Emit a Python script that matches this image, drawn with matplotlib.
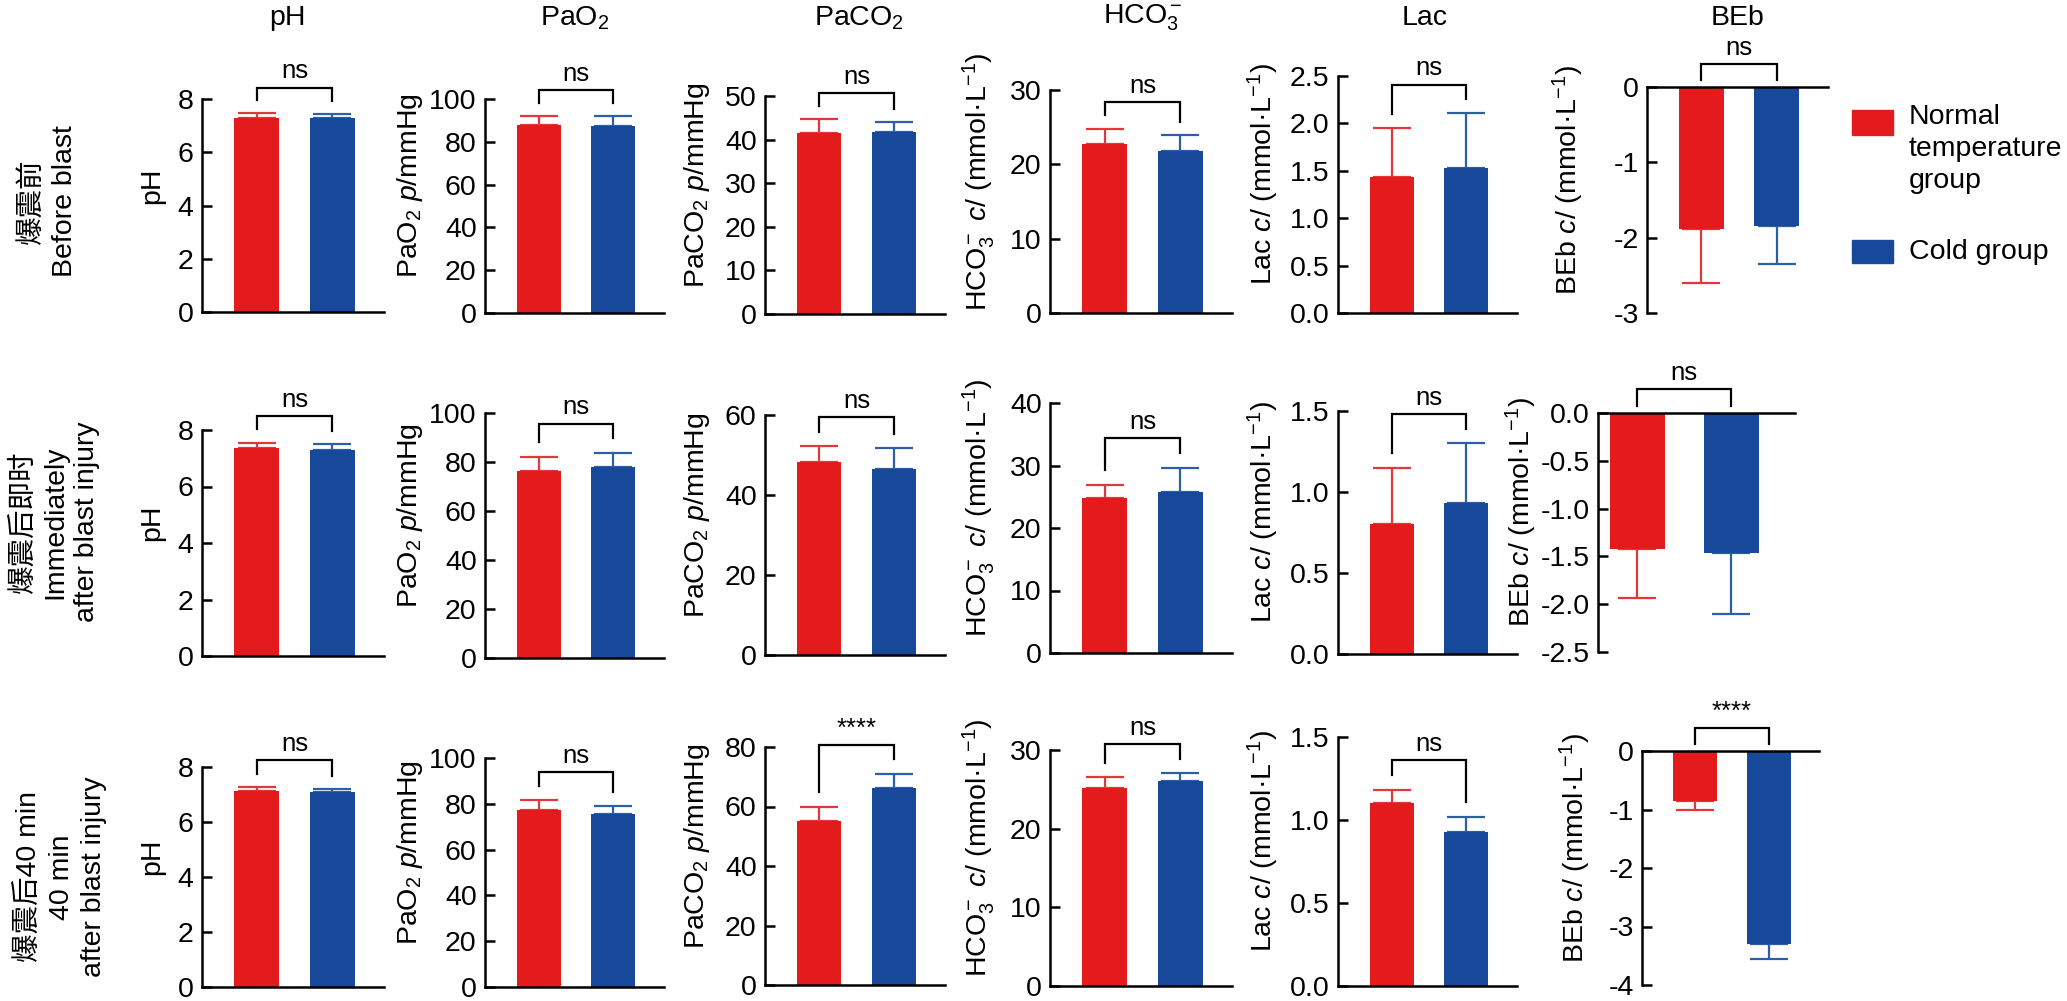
import numpy as np
import matplotlib
matplotlib.use("Agg")
import matplotlib.pyplot as plt
from matplotlib.patches import Rectangle
from matplotlib.ticker import FormatStrFormatter, MultipleLocator

# 数据
group_names = ["Normal\ntemperature\ngroup", "Cold group"]
col_titles = ["pH", "PaO$_2$", "PaCO$_2$", "HCO$_3^-$", "Lac", "BEb"]
y_titles = ["pH",
            "PaO$_2$ $\\it{p}$/mmHg",
            "PaCO$_2$ $\\it{p}$/mmHg",
            "HCO$_3^-$ $\\it{c}$/ (mmol·L$^{-1}$)",
            "Lac $\\it{c}$/ (mmol·L$^{-1}$)",
            "BEb $\\it{c}$/ (mmol·L$^{-1}$)"]
row_titles = ["爆震前\nBefore blast",
              "爆震后即时\nImmediately\nafter blast injury",
              "爆震后40 min\n40 min\nafter blast injury"]

normal_mean = [[7.29, 88.0, 41.5, 22.7, 1.43, -1.88],
               [7.36, 76.3, 48.2, 24.8, 0.80, -1.42],
               [7.14, 77.4, 55.2, 25.2, 1.10, -0.85]]
normal_sd = [[0.18, 4.0, 3.2, 2.1, 0.52, 0.72],
             [0.18, 5.7, 4.0, 2.1, 0.35, 0.51],
             [0.14, 4.3, 4.8, 1.4, 0.08, 0.15]]
cold_mean = [[7.29, 87.5, 41.8, 21.8, 1.53, -1.84],
             [7.30, 78.0, 46.5, 25.8, 0.93, -1.46],
             [7.10, 75.5, 66.3, 26.1, 0.93, -3.30]]
cold_sd = [[0.15, 4.5, 2.2, 2.1, 0.58, 0.51],
           [0.20, 5.7, 5.2, 3.8, 0.37, 0.64],
           [0.10, 3.5, 4.7, 1.0, 0.09, 0.25]]
sig_labels = [["ns", "ns", "ns", "ns", "ns", "ns"],
              ["ns", "ns", "ns", "ns", "ns", "ns"],
              ["ns", "ns", "****", "ns", "ns", "****"]]
y_limits = [[(0, 8), (0, 100), (0, 50), (0, 30), (0, 2.5), (-3, 0)],
            [(0, 8), (0, 100), (0, 60), (0, 40), (0, 1.5), (-2.5, 0)],
            [(0, 8), (0, 100), (0, 80), (0, 30), (0, 1.5), (-4, 0)]]
y_steps = [[2, 20, 10, 10, 0.5, 1],
           [2, 20, 20, 10, 0.5, 0.5],
           [2, 20, 20, 10, 0.5, 1]]

# 颜色
RED = "#E41B1D"
BLUE = "#17489A"
RED_ERR = "#E2383B"
BLUE_ERR = "#2D5EA8"

# 版面 (像素)
W, H = 2067, 1001
col_x = [(202, 384), (485, 664), (765, 945), (1050, 1232), (1338, 1517)]
beb_x = [(1647, 1828), (1598, 1795), (1642, 1819)]
beb_xmin = [0.28, 0.58, 0.28]
panel_y = [[(99, 312), (99, 313), (96, 314), (90, 313), (76, 313), (87, 313)],
           [(430, 656), (413, 658), (415, 655), (403, 653), (411, 654), (413, 652)],
           [(767, 987), (758, 987), (747, 985), (750, 986), (737, 986), (751, 985)]]
ylabel_x = [152, 410, 697, 979, 1263]
beb_ylabel_x = [1568, 1521, 1575]
title_x = [287, 575, 859, 1143, 1425, 1738]
row_label_pos = [(49, 201), (55, 522), (62, 877)]

FS = 20.5

plt.rcParams.update({
    "font.family": ["Liberation Sans", "Noto Sans CJK SC", "DejaVu Sans"],
    "font.size": FS,
    "mathtext.fontset": "custom",
    "mathtext.rm": "Liberation Sans",
    "mathtext.it": "Liberation Sans:italic",
    "mathtext.bf": "Liberation Sans:bold",
    "axes.unicode_minus": False,
})

fig = plt.figure(figsize=(W / 100, H / 100), dpi=100)


def fx(px):
    return px / W


def fy(py):
    return 1 - py / H


for r in range(3):
    for c in range(6):
        left, right = beb_x[r] if c == 5 else col_x[c]
        top, bottom = panel_y[r][c]
        ax = fig.add_axes([fx(left), fy(bottom), (right - left) / W, (bottom - top) / H])

        m = [normal_mean[r][c], cold_mean[r][c]]
        s = [normal_sd[r][c], cold_sd[r][c]]
        xs = [1, 2]
        ax.bar(xs, m, width=0.59, color=[RED, BLUE], zorder=2)
        for x, mv, sv, ec in zip(xs, m, s, [RED_ERR, BLUE_ERR]):
            yerr = [[0], [sv]] if mv > 0 else [[sv], [0]]
            ax.errorbar([x], [mv], yerr=yerr, fmt="none", ecolor=ec,
                        elinewidth=1.6, capsize=14, capthick=1.6, zorder=1)

        lo, hi = y_limits[r][c]
        rng = hi - lo
        ax.set_xlim(beb_xmin[r] if c == 5 else 0.28, 2.68)
        ax.set_ylim(lo, hi)
        ax.yaxis.set_major_locator(MultipleLocator(y_steps[r][c]))
        fmt = "%.1f" if y_steps[r][c] < 1 else "%d"
        ax.yaxis.set_major_formatter(FormatStrFormatter(fmt))
        ax.set_xticks([])
        ax.tick_params(axis="y", direction="in", length=7, width=1.8, pad=6, labelsize=FS)
        for side in ["top", "right"]:
            ax.spines[side].set_visible(False)
        for side in ["left", "bottom"]:
            ax.spines[side].set_linewidth(1.8)
        if hi <= 0:
            ax.spines["bottom"].set_position(("data", 0))

        # 显著性标注
        if min(m) > 0:
            legs = [mv + sv + 0.06 * rng for mv, sv in zip(m, s)]
            btop = max(legs) + 0.06 * rng
        else:
            legs = [0.03 * rng, 0.03 * rng]
            btop = 0.1 * rng
        ax.plot([1, 1, 2, 2], [legs[0], btop, btop, legs[1]], color="black",
                lw=1.6, clip_on=False, solid_joinstyle="miter")
        ax.annotate(sig_labels[r][c], (1.5, btop), xytext=(0, 3), textcoords="offset points",
                    ha="center", va="bottom", fontsize=18.5, annotation_clip=False)

        # y 轴标题
        lx = beb_ylabel_x[r] if c == 5 else ylabel_x[c]
        fig.text(fx(lx), fy((top + bottom) / 2 - 20), y_titles[c], rotation=90,
                 ha="center", va="center", fontsize=FS)

# 列标题
for c in range(6):
    fig.text(fx(title_x[c]), fy(18), col_titles[c], ha="center", va="center", fontsize=FS)

# 行标题
for r in range(3):
    x, y = row_label_pos[r]
    fig.text(fx(x), fy(y), row_titles[r], rotation=90, ha="center", va="center",
             multialignment="center", linespacing=1.3, fontsize=FS)

# 图例
for name, color, (ytop, ybot), ty, va in zip(group_names, [RED, BLUE],
                                            [(110, 135), (240, 263)], [104, 252], ["top", "center"]):
    fig.add_artist(Rectangle((fx(1852), fy(ybot)), 41 / W, (ybot - ytop) / H,
                             transform=fig.transFigure, color=color))
    fig.text(fx(1909), fy(ty), name, ha="left", va=va, fontsize=FS, linespacing=1.3)

fig.savefig("out.png", dpi=100)
